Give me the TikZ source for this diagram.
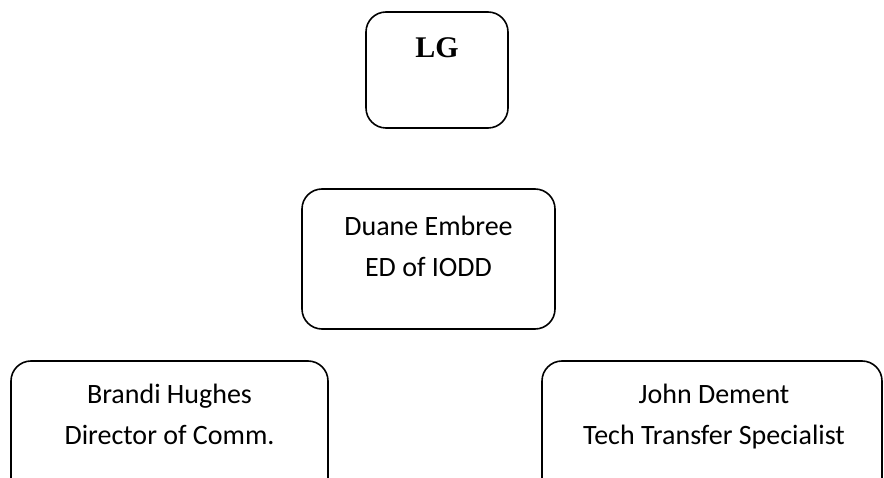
\documentclass[tikz,border=0pt]{standalone}
\usepackage{fontspec}
\setmainfont{Carlito}
\newfontfamily\lgfont{Liberation Serif}
\usetikzlibrary{positioning}

\begin{document}
\begin{tikzpicture}[x=1pt, y=-1pt, line width=1.6pt,
    unitbox/.style={draw, rounded corners=20pt, inner sep=0pt},
    person/.style={font=\fontsize{28}{41}\selectfont, align=center, anchor=base, inner sep=0pt}]
  \useasboundingbox (0,0) rectangle (884,478);
  \clip (0,0) rectangle (884,478);
  % top unit
  \node[unitbox, minimum width=142pt, minimum height=116pt] (lg) at (437,70) {};
  \node[anchor=base, inner sep=0pt, font=\lgfont\bfseries\fontsize{30}{36}\selectfont] (lgname) at (437,58) {LG};
  % director (base = last line)
  \node[unitbox, minimum width=253pt, minimum height=140pt] (duane) at (428.5,259) {};
  \node[person] (duanename) at (428.5,277) {Duane Embree\\ED of IODD};
  % staff, boxes run past the lower edge
  \node[unitbox, minimum width=317pt, minimum height=139pt] (brandi) at (169.5,430.5) {};
  \node[person] (brandiname) at (169.5,444) {Brandi Hughes\\Director of Comm.};
  \node[unitbox, minimum width=340pt, minimum height=139pt] (john) at (712,430.5) {};
  \node[person] (johnname) at (714,444) {John Dement\\Tech Transfer Specialist};
\end{tikzpicture}
\end{document}
